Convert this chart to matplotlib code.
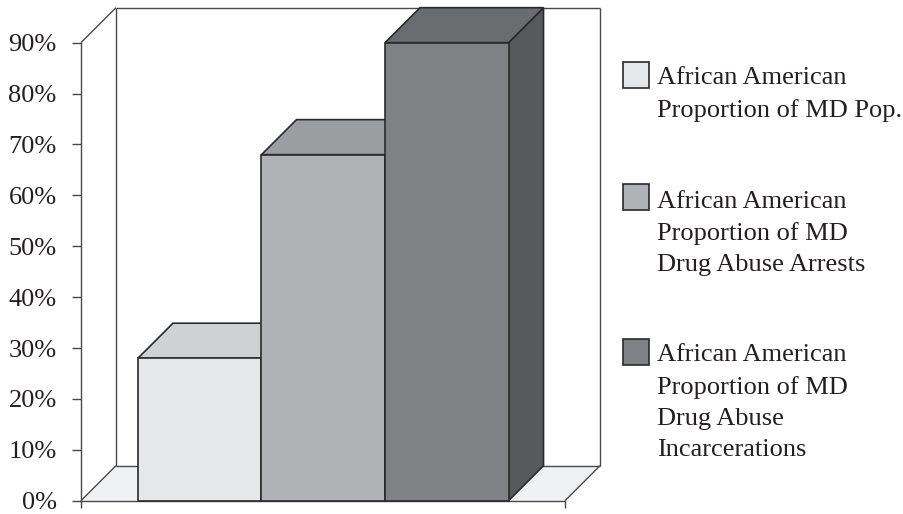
import matplotlib
matplotlib.use('Agg')
import matplotlib.pyplot as plt
from matplotlib.patches import Polygon, Rectangle

# ---- data ----
categories = ["African American\nProportion of MD Pop.",
              "African American\nProportion of MD\nDrug Abuse Arrests",
              "African American\nProportion of MD\nDrug Abuse\nIncarcerations"]
values = [28, 68, 90]
yticks = [0, 10, 20, 30, 40, 50, 60, 70, 80, 90]
ytick_labels = [f"{t}%" for t in yticks]

# ---- style ----
front_colors = ['#e6e7e9', '#b1b2b5', '#808185']
top_colors = ['#d0d1d3', '#9c9da0', '#6b6c70']
side_colors = ['#bdbec0', '#8c8d90', '#58595b']
floor_color = '#f0f1f3'
edge = '#2a2a2a'
wall = '#4a4a4a'
txt = '#231f20'

plt.rcParams['font.family'] = ['Liberation Serif', 'DejaVu Serif']

fig = plt.figure(figsize=(9.04, 5.14), dpi=100)
ax = fig.add_axes([0, 0, 1, 1])
ax.set_xlim(-1.617, 5.702)
ax.set_ylim(-2.613, 98.39)
ax.patch.set_visible(False)

ymax = yticks[-1]
X0, X1 = -0.4615 - 0.5, 2.4575 + 0.5   # floor extent
DX, DY = 0.2834, 6.88                   # oblique depth offset

# floor
ax.add_patch(Polygon([(X0, 0), (X1, 0), (X1 + DX, DY), (X0 + DX, DY)],
                     closed=True, facecolor=floor_color, edgecolor='none', zorder=1))
# walls
lines = [([X0, X0 + DX], [0, DY]),
         ([X0, X0 + DX], [ymax, ymax + DY]),
         ([X0 + DX, X0 + DX], [DY, ymax + DY]),
         ([X0 + DX, X1 + DX], [ymax + DY, ymax + DY]),
         ([X1 + DX, X1 + DX], [DY, ymax + DY]),
         ([X0 + DX, X1 + DX], [DY, DY]),
         ([X1, X1 + DX], [0, DY])]
for xs, ys in lines:
    ax.plot(xs, ys, color=wall, lw=1.0, zorder=2, solid_capstyle='butt')

# bars
for i, v in enumerate(values):
    x0, x1 = i - 0.5, i + 0.5
    z = 3 + i
    ax.add_patch(Polygon([(x1, 0), (x1 + DX, DY), (x1 + DX, v + DY), (x1, v)],
                         closed=True, facecolor=side_colors[i], edgecolor=edge, lw=1.2, zorder=z))
    ax.add_patch(Polygon([(x0, v), (x1, v), (x1 + DX, v + DY), (x0 + DX, v + DY)],
                         closed=True, facecolor=top_colors[i], edgecolor=edge, lw=1.2, zorder=z))
    ax.add_patch(Rectangle((x0, 0), 1, v, facecolor=front_colors[i],
                           edgecolor=edge, lw=1.2, zorder=z))

# axes / spines
for s in ['top', 'right']:
    ax.spines[s].set_visible(False)
ax.spines['left'].set_position(('data', X0))
ax.spines['left'].set_bounds(0, ymax)
ax.spines['bottom'].set_position(('data', 0))
ax.spines['bottom'].set_bounds(X0, X1)
for s in ['left', 'bottom']:
    ax.spines[s].set_color(wall)
    ax.spines[s].set_linewidth(1.0)
    ax.spines[s].set_zorder(2)
ax.set_yticks(yticks)
ax.set_yticklabels(ytick_labels)
ax.set_xticks([X0, X1])
ax.set_xticklabels(['', ''])
ax.tick_params(axis='y', direction='out', length=6.5, width=1.0, color=wall,
               pad=11, labelsize=19, labelcolor=txt)
ax.tick_params(axis='x', direction='out', length=5, width=1.0, color=wall)

# legend (manual)
W, H = 904.0, 514.0
box_x = 622.7
box_tops = [61.7, 184.0, 339.0]
text_tops = [67.0, 190.5, 344.0]
for i, lab in enumerate(categories):
    fig.patches.append(Rectangle((box_x / W, 1 - (box_tops[i] + 26) / H), 26.5 / W, 26 / H,
                                 transform=fig.transFigure, facecolor=front_colors[i],
                                 edgecolor=edge, lw=1.2))
    fig.text(657 / W, 1 - text_tops[i] / H, lab, va='top', ha='left',
             fontsize=19, color=txt, linespacing=1.54)

fig.savefig('out.png', dpi=100)
